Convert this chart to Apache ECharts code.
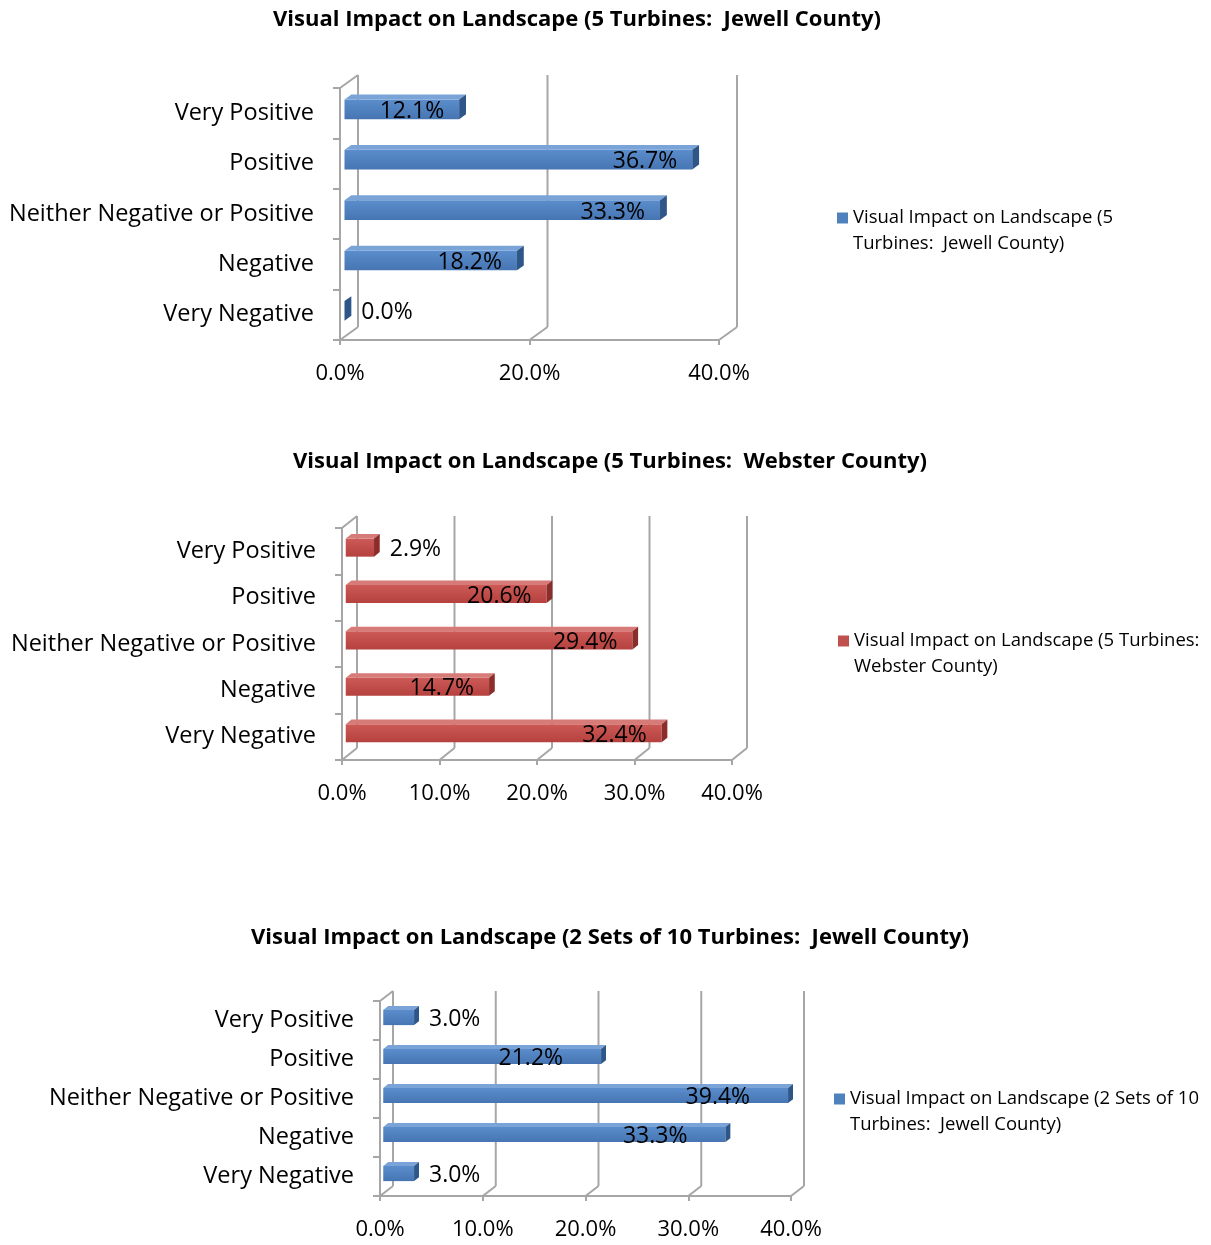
<!DOCTYPE html>
<html><head><meta charset="utf-8">
<script src="https://cdn.jsdelivr.net/npm/echarts@6/dist/echarts.min.js"></script>
<style>html,body{margin:0;padding:0;background:#fff}#c{width:1211px;height:1245px}</style>
</head><body><div id="c"></div>
<script>
const categories = ['Very Positive', 'Positive', 'Neither Negative or Positive', 'Negative', 'Very Negative'];
const jewell5 = [12.1, 36.7, 33.3, 18.2, 0.0];
const webster5 = [2.9, 20.6, 29.4, 14.7, 32.4];
const jewell10 = [3.0, 21.2, 39.4, 33.3, 3.0];
const ticks1 = [0, 20, 40];
const ticks2 = [0, 10, 20, 30, 40];
const titles = [
  'Visual Impact on Landscape (5 Turbines:  Jewell County)',
  'Visual Impact on Landscape (5 Turbines:  Webster County)',
  'Visual Impact on Landscape (2 Sets of 10 Turbines:  Jewell County)'
];
const legendLines = [
  ['Visual Impact on Landscape (5', 'Turbines:  Jewell County)'],
  ['Visual Impact on Landscape (5 Turbines:', 'Webster County)'],
  ['Visual Impact on Landscape (2 Sets of 10', 'Turbines:  Jewell County)']
];

const FONT = '"Open Sans"';
const GRAY = '#a6a6a6';
const BLUE = {front: ['#5b8dcc', '#4675b2'], top: '#7aa3d8', side: '#2f5688', legend: '#4f81bd'};
const RED = {front: ['#cc5a57', '#b6413e'], top: '#d77b78', side: '#8a2d2b', legend: '#c0504d'};

const charts = [
  {data: jewell5, ticks: ticks1, pal: BLUE, grid: {left: 340, top: 88, width: 379, height: 252}, d: [18, -13], lab: 15, titleX: 572, titleY: 4, legend: [837, 179]},
  {data: webster5, ticks: ticks2, pal: RED, grid: {left: 342, top: 528, width: 390, height: 232}, d: [15, -12], lab: 15, titleX: 605, titleY: 446, legend: [838, 602]},
  {data: jewell10, ticks: ticks2, pal: BLUE, grid: {left: 380, top: 1001, width: 411, height: 195}, d: [13, -10], lab: 38, titleX: 605, titleY: 922, legend: [834, 1060]}
];

const mctx = document.createElement('canvas').getContext('2d');
function textW(t, size) { mctx.font = size + 'px ' + FONT; return mctx.measureText(t).width; }
const pct = v => v.toFixed(1) + '%';

function frameRender(cfg) {
  return function (params, api) {
    const cs = params.coordSys;
    const v = api.value(0);
    const x = api.coord([v, 0])[0];
    const [dx, dy] = cfg.d;
    const bot = cs.y + cs.height, top = cs.y;
    const ls = {stroke: GRAY, lineWidth: 2};
    const ch = [
      {type: 'line', shape: {x1: x + dx, y1: top + dy, x2: x + dx, y2: bot + dy}, style: ls},
      {type: 'line', shape: {x1: x, y1: bot, x2: x + dx, y2: bot + dy}, style: ls}
    ];
    if (params.dataIndex === 0) {
      ch.push({type: 'line', shape: {x1: x, y1: top, x2: x + dx, y2: top + dy}, style: ls});
    }
    return {type: 'group', children: ch, silent: true};
  };
}

function barRender(cfg) {
  return function (params, api) {
    const v = api.value(0), c = api.value(1);
    const p0 = api.coord([0, c]), p1 = api.coord([v, c]);
    const band = api.size([0, 1])[1];
    const h = band * 0.39;
    const [dx, dy] = cfg.d;
    const ox = dx * 0.25, oy = dy * 0.3;
    const bx = dx * 0.38, by = dy * 0.38;
    const xa = p0[0] + ox, xb = p1[0] + ox, yc = p0[1] + oy;
    const yt = yc - h / 2, yb = yc + h / 2;
    const pal = cfg.pal;
    const ch = [];
    if (xb - xa > 0.5) {
      ch.push({type: 'rect', shape: {x: xa, y: yt, width: xb - xa, height: h},
        style: {fill: new echarts.graphic.LinearGradient(0, 0, 0, 1, [{offset: 0, color: pal.front[0]}, {offset: 1, color: pal.front[1]}])}});
      ch.push({type: 'polygon', shape: {points: [[xa, yt], [xb, yt], [xb + bx, yt + by], [xa + bx, yt + by]]},
        style: {fill: pal.top}});
    }
    ch.push({type: 'polygon', shape: {points: [[xb, yt], [xb + bx, yt + by], [xb + bx, yb + by], [xb, yb]]},
      style: {fill: pal.side}});
    const t = pct(v);
    const tw = textW(t, 23);
    let tx, align;
    if (xb - xa > tw + 12) { tx = p1[0] + ox - cfg.lab; align = 'right'; }
    else { tx = xb + bx + 10; align = 'left'; }
    ch.push({type: 'text', style: {text: t, x: tx, y: yc + 2, align: align, verticalAlign: 'middle',
      font: '23px ' + FONT, fill: '#000'}});
    return {type: 'group', children: ch};
  };
}

const option = {
  animation: false,
  backgroundColor: '#fff',
  title: [], grid: [], xAxis: [], yAxis: [], series: [], legend: []
};

charts.forEach((cfg, i) => {
  option.title.push({text: titles[i], left: cfg.titleX, top: cfg.titleY, textAlign: 'center',
    textStyle: {fontFamily: FONT, fontSize: 22, fontWeight: 'bold', color: '#000'}});
  option.grid.push(Object.assign({containLabel: false}, cfg.grid));
  option.xAxis.push({type: 'value', gridIndex: i, min: 0, max: 40, interval: cfg.ticks[1] - cfg.ticks[0],
    axisLine: {show: true, lineStyle: {color: GRAY, width: 2}},
    axisTick: {show: true, length: 5, lineStyle: {color: GRAY, width: 2}},
    splitLine: {show: false},
    axisLabel: {formatter: v => pct(v), fontFamily: FONT, fontSize: 22, color: '#000', margin: 23}});
  option.yAxis.push({type: 'category', gridIndex: i, data: categories, inverse: true,
    axisLine: {show: true, lineStyle: {color: GRAY, width: 2}},
    axisTick: {show: true, length: 7, lineStyle: {color: GRAY, width: 2}},
    axisLabel: {fontFamily: FONT, fontSize: 23.5, color: '#000', margin: 26, padding: [4, 0, 0, 0]}});
  option.series.push({type: 'custom', name: 'frame' + i, xAxisIndex: i, yAxisIndex: i, silent: true, z: 1,
    clip: false, renderItem: frameRender(cfg), encode: {x: 0, y: 1},
    data: cfg.ticks.map(t => [t, 0])});
  option.series.push({type: 'custom', name: titles[i], xAxisIndex: i, yAxisIndex: i, z: 3, clip: false,
    itemStyle: {color: cfg.pal.legend}, renderItem: barRender(cfg), encode: {x: 0, y: 1},
    data: cfg.data.map((v, k) => [v, k])});
  option.legend.push({data: [{name: titles[i], icon: 'rect'}], left: cfg.legend[0], top: cfg.legend[1], padding: 0,
    itemWidth: 11, itemHeight: 11, orient: 'vertical',
    formatter: () => '\n' + legendLines[i].join('\n'),
    textStyle: {fontFamily: FONT, fontSize: 18.5, color: '#000', lineHeight: 26}});
});

const chart = echarts.init(document.getElementById('c'), null, {renderer: 'canvas'});
chart.setOption(option);
</script></body></html>
